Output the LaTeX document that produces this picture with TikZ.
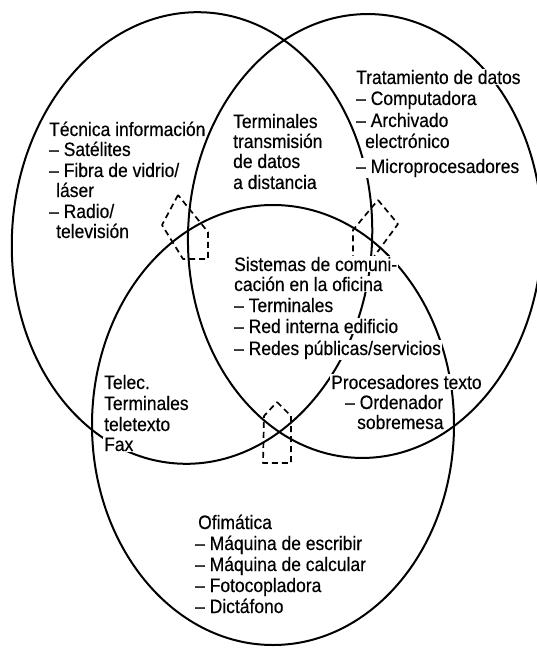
\documentclass[tikz,border=0pt]{standalone}
\usepackage{fontspec}
\setmainfont{Liberation Sans}[FakeStretch=0.9,FakeBold=0.4]
\begin{document}
\begin{tikzpicture}[x=1pt,y=-1pt,
  ring/.style={line width=2pt},
  guide/.style={line width=1.7pt, dash pattern=on 6pt off 4pt, line join=round},
  lbl/.style={anchor=base west, inner xsep=1pt, inner ysep=0.5pt, fill=white, font=\fontsize{19.4}{21}\selectfont}]
\useasboundingbox (0,0) rectangle (537,652);
% three overlapping fields
\draw[ring, rotate around={-4:(192,238)}] (192,238) ellipse [x radius=180pt, y radius=226pt];
\draw[ring, rotate around={-2:(365,236)}] (365,236) ellipse [x radius=177pt, y radius=222pt];
\draw[ring] (273,425) ellipse [x radius=181pt, y radius=220pt];
% dashed markers at the intersections
\draw[guide] (178,195) -- (162,225) -- (183,259) -- (208,259) -- (208,232) -- cycle;
\draw[guide] (378,200) -- (398,224) -- (373,258) -- (353,258) -- (353,230) -- cycle;
\draw[guide] (277,402) -- (291,416) -- (291,463) -- (263,463) -- (264,416) -- cycle;
% Técnica información
\node[lbl] (a1) at (48,136) {Técnica información};
\node[lbl] (a2) at (48,156) {– Satélites};
\node[lbl] (a3) at (48,177) {– Fibra de vidrio/};
\node[lbl] (a4) at (55,197) {láser};
\node[lbl] (a5) at (48,218) {– Radio/};
\node[lbl] (a6) at (55,238) {televisión};
% Terminales transmisión
\node[lbl] (b1) at (232,128) {Terminales};
\node[lbl] (b2) at (232,148) {transmisión};
\node[lbl] (b3) at (232,168) {de datos};
\node[lbl] (b4) at (232,189) {a distancia};
% Tratamiento de datos
\node[lbl] (c1) at (355,84) {Tratamiento de datos};
\node[lbl] (c2) at (355,105) {– Computadora};
\node[lbl] (c3) at (355,127) {– Archivado};
\node[lbl] (c4) at (364,148) {electrónico};
\node[lbl] (c5) at (355,173) {– Microprocesadores};
% Sistemas de comunicación
\node[lbl] (d1) at (233,271) {Sistemas de comuni-};
\node[lbl] (d2) at (233,291) {cación en la oficina};
\node[lbl] (d3) at (233,312) {– Terminales};
\node[lbl] (d4) at (233,333) {– Red interna edificio};
\node[lbl] (d5) at (233,355) {– Redes públicas/servicios};
% Telec.
\node[lbl] (e1) at (103,389) {Telec.};
\node[lbl] (e2) at (103,410) {Terminales};
\node[lbl] (e3) at (103,431) {teletexto};
\node[lbl] (e4) at (103,451) {Fax};
% Procesadores texto
\node[lbl] (f1) at (330,389) {Procesadores texto};
\node[lbl] (f2) at (344,409) {– Ordenador};
\node[lbl] (f3) at (356,429) {sobremesa};
% Ofimática
\node[lbl] (g1) at (197,529) {Ofimática};
\node[lbl] (g2) at (194,550) {– Máquina de escribir};
\node[lbl] (g3) at (194,571) {– Máquina de calcular};
\node[lbl] (g4) at (194,592) {– Fotocopladora};
\node[lbl] (g5) at (194,613) {– Dictáfono};
\end{tikzpicture}
\end{document}
